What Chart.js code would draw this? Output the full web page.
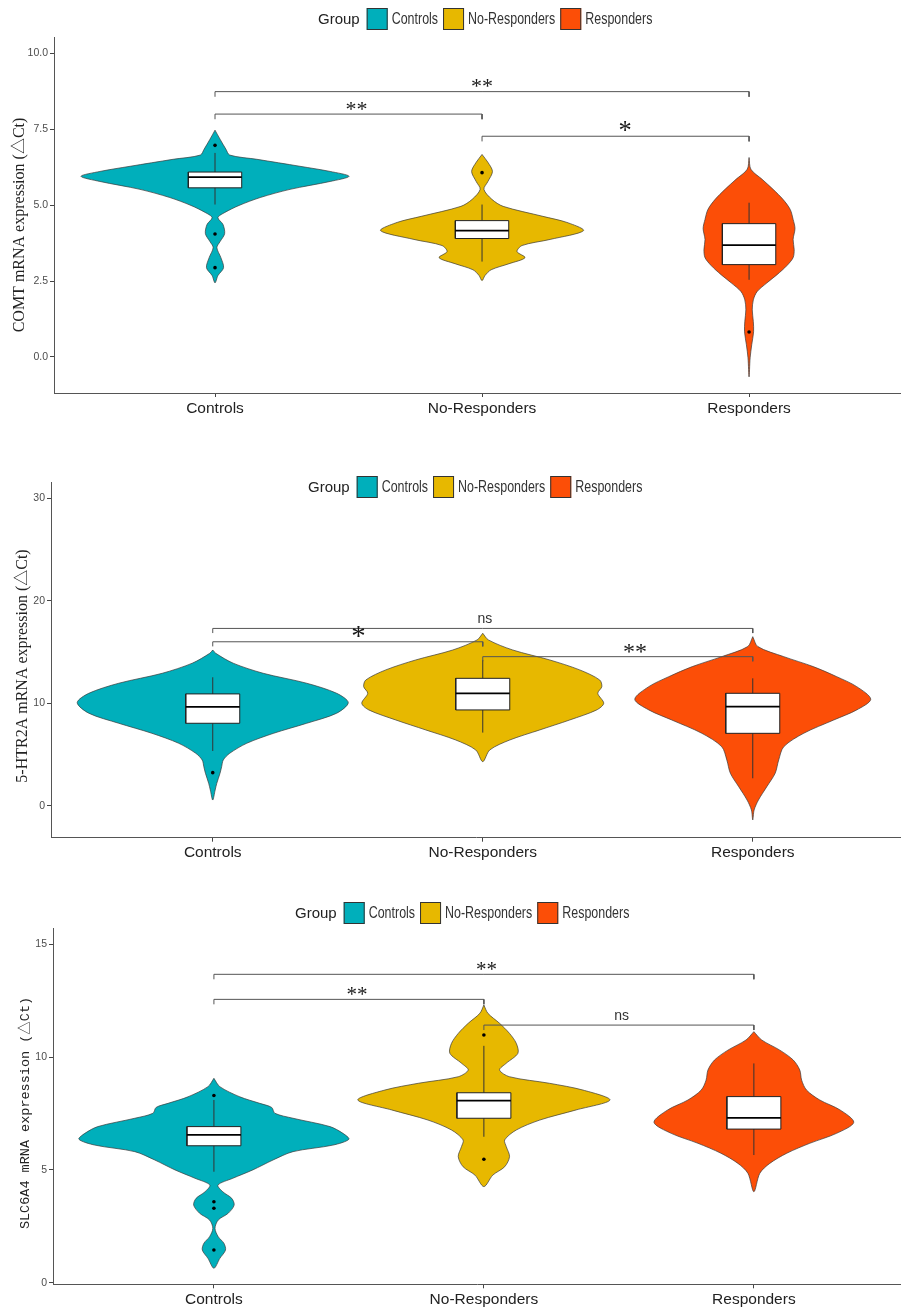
<!DOCTYPE html>
<html>
<head>
<meta charset="utf-8">
<script src="https://cdn.jsdelivr.net/npm/chart.js@4.4.1/dist/chart.umd.min.js"></script>
<style>
  html, body { margin: 0; padding: 0; background: #ffffff; }
  body { position: relative; width: 901px; height: 1307px; overflow: hidden; }
  .panel { position: absolute; left: 0; }
</style>
</head>
<body>
<div class="panel" style="top:0px"><canvas id="comt" width="901" height="425"></canvas></div>
<div class="panel" style="top:425px"><canvas id="htr2a" width="901" height="445"></canvas></div>
<div class="panel" style="top:870px"><canvas id="slc6a4" width="901" height="437"></canvas></div>
<script>
// ---- groups ----
const GROUPS = ['Controls', 'No-Responders', 'Responders'];
const GROUP_COLORS = ['#00AFBB', '#E7B800', '#FC4E07'];

// ---- COMT: violin profiles as [value, half-width in category units] ----
const COMT_CONTROLS_VIOLIN = [[7.47,0],[7.17,0.019],[6.84,0.041],[6.65,0.055],[6.51,0.157],[6.28,0.318],[6.11,0.431],[5.95,0.502],[5.78,0.431],[5.52,0.281],[5.25,0.169],[4.99,0.090],[4.76,0.037],[4.59,0.011],[4.36,0.030],[4.06,0.036],[3.80,0.019],[3.60,0.007],[3.27,0.022],[2.94,0.032],[2.68,0.011],[2.44,0]];
const COMT_NONRESP_VIOLIN = [[6.67,0],[6.41,0.022],[6.11,0.039],[5.78,0.022],[5.52,0.007],[5.19,0.037],[4.96,0.079],[4.63,0.228],[4.43,0.318],[4.16,0.380],[3.87,0.255],[3.67,0.150],[3.47,0.131],[3.27,0.161],[3.07,0.101],[2.87,0.034],[2.68,0.011],[2.51,0]];
const COMT_RESP_VIOLIN = [[6.57,0],[6.18,0.007],[5.85,0.049],[5.52,0.090],[5.19,0.127],[4.86,0.154],[4.53,0.165],[4.23,0.172],[3.87,0.165],[3.53,0.169],[3.27,0.165],[3.01,0.142],[2.71,0.105],[2.44,0.067],[2.15,0.030],[1.88,0.016],[1.55,0.012],[1.16,0.016],[0.83,0.017],[0.40,0.010],[-0.03,0.004],[-0.66,0]];
// box stats: [lower whisker, Q1, median, Q3, upper whisker]
const COMT_BOXES = [[5.02,5.57,5.92,6.09,6.72],[3.14,3.90,4.16,4.49,5.02],[2.54,3.04,3.68,4.39,5.08]];
const COMT_OUTLIERS = [[6.97,4.05,2.94],[6.07],[0.82]];
const COMT_PAIRS = [[1,3],[1,2],[2,3]];
const COMT_BRACKET_Y = [8.74, 8.0, 7.27];
const COMT_SIG = ['**', '**', '*'];
const COMT_SIG_X = [2.0, 1.53, 2.536];
const COMT_Y_TICKS = [0, 2.5, 5, 7.5, 10];

// ---- 5-HTR2A ----
const HTR_CONTROLS_VIOLIN = [[15.2,0],[14.88,0.011],[13.91,0.076],[12.93,0.187],[11.96,0.348],[10.98,0.459],[10.07,0.502],[9.04,0.459],[8.06,0.348],[7.09,0.226],[6.11,0.126],[5.14,0.063],[4.48,0.039],[3.83,0.033],[3.19,0.027],[2.21,0.015],[1.56,0.009],[0.58,0]];
const HTR_NONRESP_VIOLIN = [[16.83,0],[16.18,0.021],[15.2,0.111],[14.23,0.248],[13.26,0.359],[12.28,0.433],[11.63,0.441],[10.98,0.426],[10.01,0.448],[9.36,0.422],[8.38,0.322],[7.41,0.211],[6.43,0.100],[5.46,0.026],[4.32,0]];
const HTR_RESP_VIOLIN = [[16.5,0],[15.53,0.019],[14.55,0.115],[13.58,0.224],[12.6,0.311],[11.63,0.385],[10.4,0.437],[9.36,0.385],[8.38,0.300],[7.09,0.189],[5.78,0.115],[4.48,0.096],[3.19,0.083],[1.88,0.052],[0.58,0.021],[-0.39,0.005],[-1.36,0]];
const HTR_BOXES = [[5.36,8.06,9.65,10.92,12.54],[7.15,9.36,10.98,12.44,14.23],[2.7,7.08,9.68,10.98,12.44]];
const HTR_OUTLIERS = [[3.25],[],[]];
const HTR_PAIRS = [[1,3],[1,2],[2,3]];
const HTR_BRACKET_Y = [17.3, 16.0, 14.55];
const HTR_SIG = ['ns', '*', '**'];
const HTR_SIG_X = [2.008, 1.54, 2.564];
const HTR_Y_TICKS = [0, 10, 20, 30];

// ---- SLC6A4 ----
const SLC_CONTROLS_VIOLIN = [[9.06,0],[8.69,0.022],[8.24,0.096],[7.95,0.170],[7.77,0.214],[7.51,0.226],[7.29,0.293],[6.92,0.430],[6.62,0.478],[6.36,0.500],[6.10,0.441],[5.81,0.293],[5.44,0.219],[5.00,0.144],[4.63,0.070],[4.33,0.015],[4.03,0.033],[3.74,0.066],[3.44,0.075],[3.08,0.053],[2.78,0.016],[2.41,0.004],[2.04,0.016],[1.75,0.037],[1.45,0.043],[1.08,0.022],[0.64,0]];
const SLC_NONRESP_VIOLIN = [[12.31,0],[11.94,0.015],[11.50,0.058],[11.05,0.095],[10.61,0.120],[10.17,0.126],[9.73,0.083],[9.43,0.058],[9.13,0.095],[8.84,0.243],[8.54,0.367],[8.10,0.467],[7.66,0.342],[7.21,0.207],[6.77,0.120],[6.33,0.077],[6.03,0.083],[5.59,0.095],[5.14,0.077],[4.77,0.033],[4.26,0]];
const SLC_RESP_VIOLIN = [[11.13,0],[10.76,0.029],[10.31,0.096],[9.87,0.146],[9.43,0.170],[8.98,0.177],[8.54,0.195],[8.10,0.244],[7.66,0.319],[7.11,0.370],[6.62,0.306],[6.18,0.207],[5.74,0.122],[5.29,0.059],[4.85,0.022],[4.03,0]];
const SLC_BOXES = [[4.92,6.07,6.55,6.92,8.1],[6.47,7.29,8.07,8.42,10.5],[5.66,6.81,7.31,8.25,9.72]];
const SLC_OUTLIERS = [[8.3,3.59,3.3,1.45],[10.98,5.47],[]];
const SLC_PAIRS = [[1,3],[1,2],[2,3]];
const SLC_BRACKET_Y = [13.67, 12.56, 11.42];
const SLC_SIG = ['**', '**', 'ns'];
const SLC_SIG_X = [2.01, 1.53, 2.51];
const SLC_Y_TICKS = [0, 5, 10, 15];

// ---- drawing helpers ----
const BOX_HALF = 0.1;
const SERIF = "'Liberation Serif', 'Noto Sans CJK SC', serif";
const SANS = "'Liberation Sans', Arial, sans-serif";
const MONO = "'Liberation Mono', 'Noto Sans CJK SC', monospace";

function violinOutline(center, profile) {
  const right = profile.map(([v, w]) => ({ x: center + w, y: v }));
  const left = profile.slice(0, -1).reverse().map(([v, w]) => ({ x: center - w, y: v }));
  return right.concat(left);
}

function buildDatasets(violins, boxes, outliers, pairs, bracketY, tick) {
  const sets = [];
  violins.forEach((profile, i) => {
    const c = i + 1;
    sets.push({
      data: violinOutline(c, profile), showLine: true, fill: 'shape',
      backgroundColor: GROUP_COLORS[i], borderColor: '#3a3a3a', borderWidth: 0.7,
      pointRadius: 0, pointHoverRadius: 0, tension: 0.3, order: 6
    });
    const [lo, q1, med, q3, hi] = boxes[i];
    sets.push({
      data: [{ x: c, y: lo }, { x: c, y: hi }], showLine: true,
      borderColor: '#333333', borderWidth: 1, pointRadius: 0, pointHoverRadius: 0, order: 5
    });
    sets.push({
      data: [{ x: c - BOX_HALF, y: q1 }, { x: c + BOX_HALF, y: q1 }, { x: c + BOX_HALF, y: q3 },
             { x: c - BOX_HALF, y: q3 }, { x: c - BOX_HALF, y: q1 }],
      showLine: true, fill: 'shape', backgroundColor: '#ffffff',
      borderColor: '#222222', borderWidth: 1, pointRadius: 0, pointHoverRadius: 0, order: 4
    });
    sets.push({
      data: [{ x: c - BOX_HALF, y: med }, { x: c + BOX_HALF, y: med }], showLine: true,
      borderColor: '#000000', borderWidth: 1.8, pointRadius: 0, pointHoverRadius: 0, order: 3
    });
    sets.push({
      data: outliers[i].map(v => ({ x: c, y: v })), showLine: false,
      pointRadius: 1.8, pointHoverRadius: 1.8, pointBackgroundColor: '#000000', pointBorderWidth: 0, order: 2
    });
  });
  pairs.forEach(([a, b], k) => {
    const y = bracketY[k];
    sets.push({
      data: [{ x: a, y: y - tick }, { x: a, y: y }, { x: b, y: y }, { x: b, y: y - tick }],
      showLine: true, borderColor: '#555555', borderWidth: 1, pointRadius: 0, pointHoverRadius: 0, order: 1
    });
  });
  return sets;
}

// legend row: "Group" then a coloured key and label per group
const groupLegend = {
  id: 'groupLegend',
  afterDraw(chart, args, opts) {
    const ctx = chart.ctx;
    ctx.save();
    ctx.textBaseline = 'middle';
    ctx.font = '15px ' + SANS;
    ctx.fillStyle = '#222222';
    let x = opts.x;
    const yc = opts.y;
    ctx.fillText('Group', x, yc + 1);
    x += ctx.measureText('Group').width + 7;
    GROUPS.forEach((g, i) => {
      ctx.fillStyle = GROUP_COLORS[i];
      ctx.fillRect(x, yc - 11, 21, 22);
      ctx.strokeStyle = '#333333';
      ctx.lineWidth = 1;
      ctx.strokeRect(x + 0.5, yc - 10.5, 20, 21);
      x += 25;
      ctx.save();
      ctx.translate(x, yc + 1);
      ctx.scale(0.83, 1.05);
      ctx.fillStyle = '#333333';
      ctx.fillText(g, 0, 0);
      const w = ctx.measureText(g).width;
      ctx.restore();
      x += w * 0.83 + 5;
    });
    ctx.restore();
  }
};

// rotated y-axis title, centred at a given point of the left margin
const axisTitle = {
  id: 'axisTitle',
  afterDraw(chart, args, opts) {
    const ctx = chart.ctx;
    ctx.save();
    ctx.translate(opts.x, opts.y);
    ctx.rotate(-Math.PI / 2);
    ctx.textAlign = 'center';
    ctx.textBaseline = 'middle';
    ctx.font = opts.size + 'px ' + opts.family;
    ctx.fillStyle = '#222222';
    ctx.fillText(opts.text, 0, 0);
    ctx.restore();
  }
};

// significance labels above the comparison brackets
const sigLabels = {
  id: 'sigLabels',
  afterDatasetsDraw(chart, args, opts) {
    const ctx = chart.ctx;
    const xs = chart.scales.x, ys = chart.scales.y;
    ctx.save();
    ctx.textAlign = 'center';
    ctx.textBaseline = 'middle';
    opts.labels.forEach((txt, k) => {
      const px = xs.getPixelForValue(opts.xs[k]);
      const py = ys.getPixelForValue(opts.ys[k]);
      if (txt === 'ns') {
        ctx.font = '14px ' + SANS;
        ctx.fillStyle = '#333333';
        ctx.fillText(txt, px, py - 9);
      } else {
        const size = txt.length === 1 ? opts.starSize * 1.2 : opts.starSize;
        ctx.font = size + 'px ' + SERIF;
        ctx.fillStyle = '#1a1a1a';
        ctx.fillText(txt, px, py - 3 - size * 0.05);
      }
    });
    ctx.restore();
  }
};

function makePanel(id, p) {
  const ctx = document.getElementById(id).getContext('2d');
  return new Chart(ctx, {
    type: 'scatter',
    data: { datasets: buildDatasets(p.violins, p.boxes, p.outliers, p.pairs, p.bracketY, p.tick) },
    plugins: [groupLegend, sigLabels, axisTitle],
    options: {
      responsive: false,
      animation: false,
      devicePixelRatio: 1,
      events: [],
      layout: { autoPadding: false, padding: { top: p.areaTop, left: 0, right: 0, bottom: 0 } },
      plugins: {
        legend: { display: false },
        tooltip: { enabled: false },
        groupLegend: { x: p.legendX, y: p.legendY },
        sigLabels: { labels: p.sig, xs: p.sigX, ys: p.bracketY, starSize: p.starSize },
        axisTitle: { text: p.title, family: p.titleFamily, size: p.titleSize, x: p.titleX, y: p.titleY }
      },
      scales: {
        x: {
          type: 'linear', min: p.xRange[0], max: p.xRange[1],
          afterFit: s => { s.height = p.xAxisH; },
          afterBuildTicks: s => { s.ticks = GROUPS.map((g, i) => ({ value: i + 1 })); },
          ticks: {
            callback: v => GROUPS[Math.round(v) - 1],
            autoSkip: false, maxRotation: 0, padding: 2,
            color: '#222222', font: { family: SANS, size: 15.5 }
          },
          grid: { display: true, drawOnChartArea: false, drawTicks: true, tickLength: 4, color: '#444444' },
          border: { display: true, color: '#555555', width: 1 }
        },
        y: {
          type: 'linear', min: p.yRange[0], max: p.yRange[1],
          afterFit: s => { s.width = p.yAxisW; },
          afterBuildTicks: s => { s.ticks = p.yTicks.map(v => ({ value: v })); },
          ticks: {
            callback: v => p.decimals ? v.toFixed(1) : String(v),
            padding: 2, color: '#4d4d4d', font: { family: SANS, size: 10.5 }
          },
          grid: { display: true, drawOnChartArea: false, drawTicks: true, tickLength: 4, color: '#444444' },
          border: { display: true, color: '#555555', width: 1 }
        }
      }
    }
  });
}

makePanel('comt', {
  violins: [COMT_CONTROLS_VIOLIN, COMT_NONRESP_VIOLIN, COMT_RESP_VIOLIN],
  boxes: COMT_BOXES, outliers: COMT_OUTLIERS, pairs: COMT_PAIRS,
  bracketY: COMT_BRACKET_Y, sig: COMT_SIG, sigX: COMT_SIG_X, tick: 0.17, starSize: 22,
  yTicks: COMT_Y_TICKS, decimals: true, yRange: [-1.19, 10.54], xRange: [0.397, 3.569],
  title: 'COMT mRNA expression (△Ct)', titleFamily: SERIF, titleSize: 16, titleX: 20, titleY: 225,
  areaTop: 37, xAxisH: 32, yAxisW: 54, legendX: 318, legendY: 19
});

makePanel('htr2a', {
  violins: [HTR_CONTROLS_VIOLIN, HTR_NONRESP_VIOLIN, HTR_RESP_VIOLIN],
  boxes: HTR_BOXES, outliers: HTR_OUTLIERS, pairs: HTR_PAIRS,
  bracketY: HTR_BRACKET_Y, sig: HTR_SIG, sigX: HTR_SIG_X, tick: 0.45, starSize: 24,
  yTicks: HTR_Y_TICKS, decimals: false, yRange: [-3.09, 31.5], xRange: [0.401, 3.549],
  title: '5-HTR2A mRNA expression (△Ct)', titleFamily: SERIF, titleSize: 16, titleX: 23, titleY: 241,
  areaTop: 57.7, xAxisH: 32.3, yAxisW: 51, legendX: 308, legendY: 62
});

makePanel('slc6a4', {
  violins: [SLC_CONTROLS_VIOLIN, SLC_NONRESP_VIOLIN, SLC_RESP_VIOLIN],
  boxes: SLC_BOXES, outliers: SLC_OUTLIERS, pairs: SLC_PAIRS,
  bracketY: SLC_BRACKET_Y, sig: SLC_SIG, sigX: SLC_SIG_X, tick: 0.22, starSize: 21,
  yTicks: SLC_Y_TICKS, decimals: false, yRange: [-0.07, 15.71], xRange: [0.404, 3.545],
  title: 'SLC6A4 mRNA expression (△Ct)', titleFamily: MONO, titleSize: 13.5, titleX: 25, titleY: 243,
  areaTop: 58.3, xAxisH: 22.7, yAxisW: 53, legendX: 295, legendY: 43
});
</script>
</body>
</html>
